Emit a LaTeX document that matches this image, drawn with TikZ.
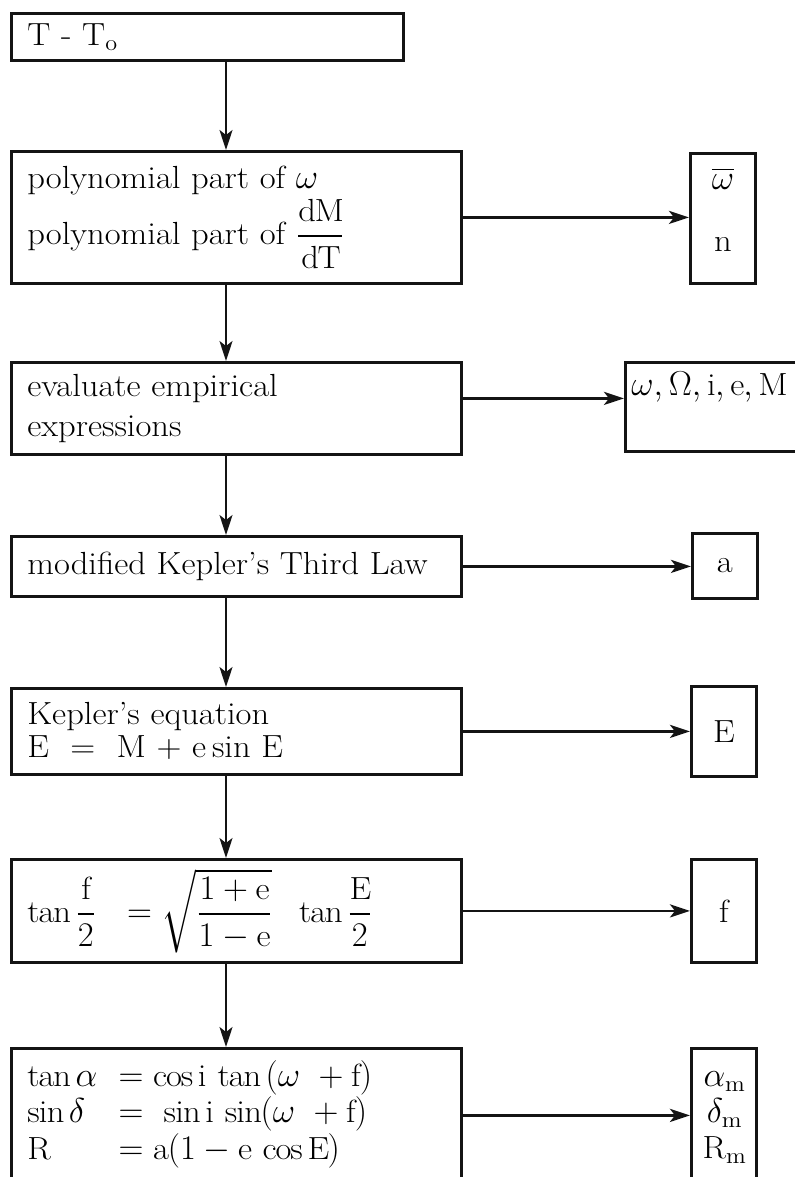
\documentclass[tikz,border=0pt]{standalone}
\usepackage{amsmath}
\usepackage{fontspec}
\setmainfont{Latin Modern Roman}[FakeStretch=1.08]
\usepackage{tikz}
\usetikzlibrary{arrows.meta, positioning, calc}
\definecolor{mydark}{RGB}{20,20,20}
\newcommand{\mainsize}{\fontsize{16}{19}\selectfont}
\tikzset{
  block/.style={rectangle, draw=mydark, anchor=north west,
    text width=209pt, inner xsep=8pt, align=left,
    minimum width=225pt, font=\mainsize, line width=1.4pt},
  topblock/.style={block, text width=180pt, minimum width=196pt},
  outblock/.style={rectangle, draw=mydark, anchor=north west,
    align=center, minimum width=32.5pt, inner sep=2pt,
    font=\mainsize, line width=1.4pt},
  arrow/.style={-{Stealth[length=10pt,width=6.5pt,inset=2.5pt]},
    line width=1pt, color=mydark},
  harrow/.style={arrow, line width=1.3pt}
}

\begin{document}
\begin{tikzpicture}[x=0.5pt, y=-0.5pt]
  \useasboundingbox (0,0) rectangle (795,1177);
  % Main chain
  \node[topblock, minimum height=23.5pt] (tdiff) at (10,12) {T - T$_{\mathrm{o}}$};
  \node[block, minimum height=66pt] (poly) at (10,150)
    {polynomial part of $\omega$\\[1pt]
     polynomial part of $\dfrac{\mathrm{dM}}{\mathrm{dT}}$};
  \node[block, minimum height=46pt] (empir) at (10,361)
    {evaluate empirical\\[1pt] expressions};
  \node[block, minimum height=30pt] (kthird) at (10,535)
    {modified Kepler's Third Law};
  \node[block, minimum height=43pt] (keq) at (10,687)
    {Kepler's equation\\[-2.5pt] E ~=~ M + e$\,$sin E};
  \node[block, minimum height=51.5pt] (anom) at (10,858)
    {$\tan\dfrac{\mathrm{f}}{2}\ \ =\sqrt{\dfrac{1+\mathrm{e}}{1-\mathrm{e}}}\ \ \tan\dfrac{\mathrm{E}}{2}$};
  \node[block, minimum height=67pt] (coords) at (10,1047)
    {\renewcommand{\arraystretch}{0.95}%
     \begin{tabular}{@{}l@{\ \ }l@{}}
      $\tan\alpha$ & $=\cos\mathrm{i}\,\tan\,(\omega\ +\mathrm{f})$\\
      $\sin\delta$ & $=\ \sin\mathrm{i}\,\sin(\omega\ +\mathrm{f})$\\
      R & $=\mathrm{a}(1-\mathrm{e}\,\cos\mathrm{E})$
    \end{tabular}};
  % Outputs
  \node[outblock, minimum height=65pt] (obar) at (689,152)
    {$\overline{\omega}$\\[12pt] n\\[-10pt]\mbox{}};
  \node[outblock, anchor=north west, align=left, text width=100pt,
    inner xsep=3pt, minimum height=44.5pt] (oelem) at (624,361)
    {$\omega,\Omega,\mathrm{i},\mathrm{e},\mathrm{M}$\\[4pt]\mbox{}};
  \node[outblock, minimum height=32.5pt] (oa) at (691,532) {a};
  \node[outblock, minimum height=45pt] (oe) at (690,685) {E};
  \node[outblock, minimum height=51.5pt] (of) at (690,858) {f};
  \node[outblock, minimum height=67pt] (oradec) at (690,1047)
    {\renewcommand{\arraystretch}{0.95}%
     \begin{tabular}{@{}c@{}}
      $\alpha_{\mathrm{m}}$\\ $\delta_{\mathrm{m}}$\\ R$_{\mathrm{m}}$
     \end{tabular}};
  % Spine
  \coordinate (spine) at (226,0);
  \draw[arrow] (tdiff.south -| spine) -- (poly.north -| spine);
  \draw[arrow] (poly.south -| spine) -- (empir.north -| spine);
  \draw[arrow] (empir.south -| spine) -- (kthird.north -| spine);
  \draw[arrow] (kthird.south -| spine) -- (keq.north -| spine);
  \draw[arrow] (keq.south -| spine) -- (anom.north -| spine);
  \draw[arrow] (anom.south -| spine) -- (coords.north -| spine);
  % Results
  \draw[harrow] (poly.east) -- (poly.east -| obar.west);
  \draw[harrow] ([yshift=5pt]empir.east) -- ([yshift=5pt]empir.east -| oelem.west);
  \draw[harrow] (kthird.east) -- (kthird.east -| oa.west);
  \draw[harrow] (keq.east) -- (keq.east -| oe.west);
  \draw[harrow] (anom.east) -- (anom.east -| of.west);
  \draw[harrow] (coords.east) -- (coords.east -| oradec.west);
\end{tikzpicture}
\end{document}
